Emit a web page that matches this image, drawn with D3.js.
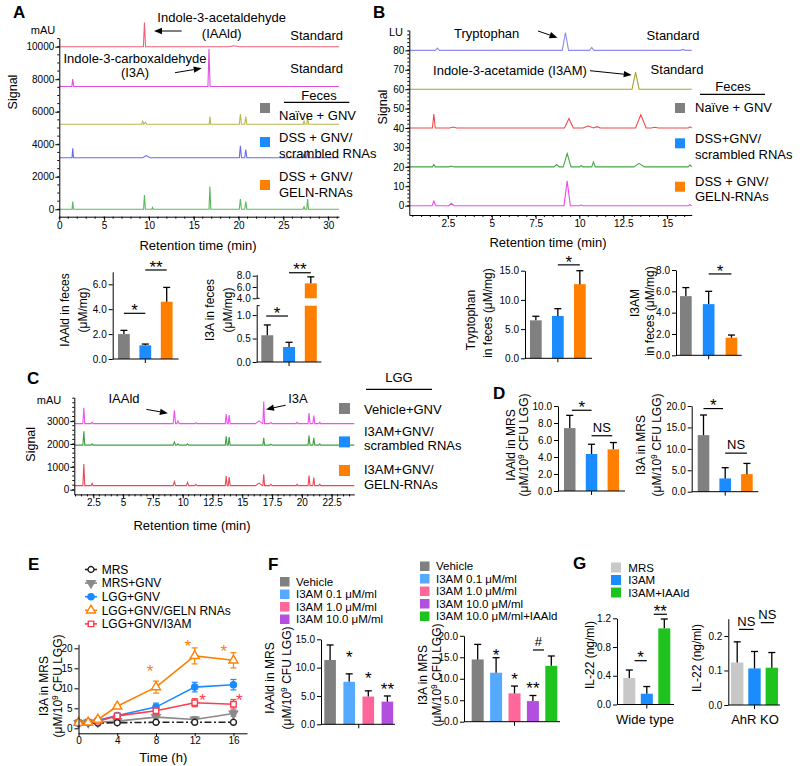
<!DOCTYPE html>
<html><head><meta charset="utf-8">
<script src="https://cdn.jsdelivr.net/npm/d3@7"></script>
<style>
body{margin:0;background:#fff;}
svg text{font-family:"Liberation Sans",Arial,Helvetica,sans-serif;fill:#000;}
</style></head><body>
<script>
// ---------------- DATA ----------------
// Chromatogram peaks: [retention time (min), peak height above baseline, half width (min)]
const aStdIAAld=[[9.5,1480,0.12],[19.5,60,0.6]];
const aStdI3A=[[1.5,460,0.1],[16.7,2300,0.12]];
const aNaive=[[9.3,220,0.1],[9.6,120,0.15],[16.8,470,0.08],[20.2,630,0.12],[20.8,470,0.12],[27.3,200,0.1],[27.7,430,0.1]];
const aScr=[[1.5,575,0.08],[9.7,130,0.4],[20.2,740,0.12],[20.8,510,0.12],[27.3,260,0.1],[27.7,470,0.1]];
const aGeln=[[1.5,470,0.08],[9.5,880,0.1],[10.4,110,0.08],[16.8,1400,0.1],[20.2,635,0.12],[20.8,470,0.12],[27.3,150,0.1],[27.7,635,0.1]];
const aBaselines=[10000,7550,5230,3170,0];

const bStdTrp=[[1.9,1.2,0.12],[9.2,9.2,0.18],[10.7,1.5,0.12],[15.9,0.5,0.15]];
const bStdI3AM=[[13.2,8.8,0.2]];
const bNaive=[[1.7,7.2,0.08],[2.8,0.5,0.2],[9.4,4.9,0.25],[10.5,1.0,0.3],[11.0,0.7,0.2],[13.5,6.9,0.3],[14.3,0.4,0.2],[16.3,0.6,0.1]];
const bScr=[[1.7,1.2,0.08],[2.7,0.4,0.15],[8.7,1.2,0.15],[9.3,6.9,0.22],[10.1,0.7,0.1],[10.8,2.6,0.1],[13.4,1.8,0.3],[16.3,1.0,0.1]];
const bGeln=[[1.7,2.4,0.1],[2.7,1.2,0.15],[9.3,12.8,0.18],[10.1,0.3,0.1],[16.3,0.5,0.1]];
const bBaselines=[80,60,40,20,0];

const cVehicle=[[1.7,690,0.08],[2.4,60,0.08],[9.3,580,0.1],[9.6,120,0.1],[11.1,40,0.1],[13.65,420,0.08],[13.9,375,0.08],[16.4,120,0.3],[16.8,970,0.07],[17.4,50,0.1],[19.6,60,0.08],[20.6,460,0.08],[21.0,350,0.08],[21.5,60,0.08]];
const cScr=[[1.7,600,0.08],[2.4,50,0.08],[9.3,140,0.1],[9.6,60,0.1],[10.4,60,0.1],[13.65,390,0.08],[13.9,350,0.08],[16.8,320,0.07],[17.4,40,0.1],[20.6,420,0.08],[21.0,320,0.08],[21.5,50,0.08]];
const cGeln=[[1.7,940,0.08],[2.4,100,0.08],[9.3,170,0.1],[10.4,140,0.1],[11.1,60,0.1],[13.65,420,0.08],[13.9,375,0.08],[16.4,110,0.3],[16.8,490,0.07],[17.4,60,0.1],[19.6,60,0.08],[20.6,440,0.08],[21.0,350,0.08],[21.5,60,0.08]];
const cBaselines=[2890,1950,180];

// Tick labels
const aYTicks=[0,2000,4000,6000,8000,10000], aXTicks=[0,5,10,15,20,25,30];
const bYTicks=[0,10,20,30,40,50,60,70,80], bXTicks=[2.5,5,7.5,10,12.5,15];
const cYTicks=[0,1000,2000,3000], cXTicks=[2.5,5,7.5,10,12.5,15,17.5,20,22.5];

// Bar data
const fecesGroups=["Naïve + GNV","DSS + GNV/scrambled RNAs","DSS + GNV/GELN-RNAs"];
const iaaldFeces=[2.0,1.1,4.6], iaaldFecesErr=[2.3,1.2,5.75];
const i3aFeces=[0.57,0.32,6.65], i3aFecesErr=[0.79,0.42,7.8];
const trpFeces=[6.5,7.25,12.7], trpFecesErr=[7.2,8.5,15.0];
const i3amFeces=[5.55,4.8,1.65], i3amFecesErr=[6.35,6.0,1.9];
const lggGroups=["Vehicle+GNV","I3AM+GNV/scrambled RNAs","I3AM+GNV/GELN-RNAs"];
const iaaldMRS=[7.4,4.35,4.9], iaaldMRSErr=[8.9,5.5,5.7];
const i3aMRS=[13.2,3.1,4.1], i3aMRSErr=[17.9,5.6,6.6];
const doseGroups=["Vehicle","I3AM 0.1 μM/ml","I3AM 1.0 μM/ml","I3AM 10.0 μM/ml","I3AM 10.0 μM/ml+IAAld"];
const iaaldDose=[11.35,7.5,4.9,4.0], iaaldDoseErr=[14.0,8.9,5.9,5.0];
const i3aDose=[14.5,11.4,6.6,4.8,13.0], i3aDoseErr=[18.0,14.9,8.3,6.1,15.3];
const il22Groups=["MRS","I3AM","I3AM+IAAld"];
const il22WT=[0.37,0.15,1.06], il22WTErr=[0.48,0.25,1.19];
const il22KO=[0.123,0.106,0.108], il22KOErr=[0.183,0.155,0.152];

// Time course (panel E)
const eTimes=[0,1,2,4,8,12,16];
const eNames=["MRS","MRS+GNV","LGG+GNV","LGG+GNV/GELN RNAs","LGG+GNV/I3AM"];
const eMRS=[1.3,1.4,1.3,1.4,1.5,1.5,1.5], eMRSErr=[0.2,0.2,0.2,0.2,0.3,0.3,0.3];
const eMRSGNV=[1.3,1.4,1.5,1.8,2.8,2.2,3.7], eMRSGNVErr=[0.2,0.2,0.2,0.3,0.8,0.7,0.7];
const eLGG=[1.4,1.5,2.0,3.2,5.3,10.3,10.9], eLGGErr=[0.2,0.2,0.3,0.5,1.0,1.2,1.3];
const eGELN=[1.4,1.5,2.2,5.5,10.3,18.1,17.0], eGELNErr=[0.2,0.2,0.3,0.4,1.5,2.0,1.9];
const eI3AM=[1.4,1.5,1.8,3.1,4.4,6.4,6.0], eI3AMErr=[0.2,0.2,0.3,0.5,0.8,1.0,1.2];
const eStarsGELN=[[7.4,15.3],[11.3,21.4],[15.0,20.2]];
const eStarsI3AM=[[12.8,8.1],[16.6,8.1]];

// ---------------- STYLE ----------------
const GRAY="#808080", BLUE="#1a8cff", ORANGE="#ff8000";
const groupColors=[GRAY,BLUE,ORANGE];
const doseColors=[GRAY,"#55aaff","#ff6699","#b24fdf","#1ec31e"];
const il22Colors=["#c8c8c8",BLUE,"#1ec31e"];

const svg=d3.select("body").append("svg").attr("width",800).attr("height",766);

function label(x,y,s,o={}){
  const t=svg.append("text").attr("x",x).attr("y",y)
    .attr("font-size",o.size||13).attr("text-anchor",o.anchor||"start")
    .attr("dy",o.dy===undefined?"0.35em":o.dy);
  if(o.bold)t.attr("font-weight","bold");
  if(o.fill)t.style("fill",o.fill);
  if(o.rot)t.attr("transform",`rotate(-90,${x},${y})`);
  if(s.includes("^")){
    const [a,b]=s.split("^");
    t.append("tspan").text(a);
    t.append("tspan").attr("dy",-4).attr("font-size",(o.size||13)*0.7).text(b[0]);
    t.append("tspan").attr("dy",4).text(b.slice(1));
  } else t.text(s);
  return t;
}
function mark(x,cy,s,fs,fill){
  const k=s.startsWith("*")?0.57:0.36;
  const t=svg.append("text").attr("x",x).attr("y",cy+k*fs).attr("text-anchor","middle").attr("font-size",fs).text(s);
  if(fill)t.style("fill",fill);
}
function arrow(x1,y1,x2,y2){
  const a=Math.atan2(y2-y1,x2-x1),L=8,W=3.2,c=Math.cos(a),s=Math.sin(a);
  svg.append("line").attr("x1",x1).attr("y1",y1).attr("x2",x2-L*c).attr("y2",y2-L*s).attr("stroke","#000").attr("stroke-width",1);
  svg.append("path").attr("d",`M${x2},${y2}L${x2-L*c+W*s},${y2-L*s-W*c}L${x2-L*c-W*s},${y2-L*s+W*c}Z`).attr("fill","#000");
}
function hline(x1,x2,y,w){svg.append("line").attr("x1",x1).attr("x2",x2).attr("y1",y).attr("y2",y).attr("stroke","#000").attr("stroke-width",w||1.2);}
function square(x,y,s,c){svg.append("rect").attr("x",x).attr("y",y).attr("width",s).attr("height",s).attr("fill",c);}

function chrom(c){
  const x=d3.scaleLinear().domain(c.xd).range(c.xr);
  const y=d3.scaleLinear().domain(c.yd).range(c.yr);
  const g=svg.append("g");
  c.traces.forEach((pk,i)=>{
    const b=c.bases[i];
    const pts=[[c.xd[0],b]];
    pk.forEach(([t,h,w])=>pts.push([t-w,b],[t,b+h],[t+w,b]));
    pts.push([c.xd[1],b]);
    g.append("path").attr("d",d3.line().x(d=>x(d[0])).y(d=>y(d[1]))(pts))
      .attr("fill","none").attr("stroke",c.colors[i]).attr("stroke-width",1.1);
  });
  const gy=g.append("g").attr("transform",`translate(${c.xr[0]},0)`).attr("font-size",11)
    .call(d3.axisLeft(y).tickValues(c.yt).tickSize(4).tickSizeOuter(0).tickPadding(1).tickFormat(d3.format("d")));
  gy.selectAll("line.mn").data(c.ym).join("line").attr("class","mn").attr("x2",-2).attr("y1",d=>y(d)).attr("y2",d=>y(d)).attr("stroke","#000");
  const gx=g.append("g").attr("transform",`translate(0,${c.yr[0]})`).attr("font-size",11)
    .call(d3.axisBottom(x).tickValues(c.xt).tickSize(4).tickSizeOuter(0).tickPadding(1).tickFormat(d=>d%1?d.toFixed(1):d));
  gx.selectAll("line.mn").data(c.xm).join("line").attr("class","mn").attr("y2",2).attr("x1",d=>x(d)).attr("x2",d=>x(d)).attr("stroke","#000");
  return {x,y};
}

function bars(c){
  const n=c.vals.length, pi=1-c.bw/c.step, r0=c.start-0.5*c.step;
  const x=d3.scaleBand().domain(c.cats.slice(0,n)).range([r0,r0+c.step*(n-pi+1)]).paddingInner(pi).paddingOuter(0.5);
  const y=d3.scaleLinear().domain(c.yd).range(c.yr);
  const xc=f=>x(c.cats[0])+x.bandwidth()/2+f*x.step();
  const g=svg.append("g");
  g.selectAll("rect").data(c.vals).join("rect")
    .attr("x",(d,i)=>x(c.cats[i])).attr("y",d=>y(d)).attr("width",x.bandwidth())
    .attr("height",d=>y(0)-y(d)).attr("fill",(d,i)=>c.colors[i]);
  c.vals.forEach((v,i)=>{
    const cx=xc(i), ye=y(c.errs[i]);
    g.append("line").attr("x1",cx).attr("x2",cx).attr("y1",y(v)).attr("y2",ye).attr("stroke","#000").attr("stroke-width",1.3);
    g.append("line").attr("x1",cx-3.5).attr("x2",cx+3.5).attr("y1",ye).attr("y2",ye).attr("stroke","#000").attr("stroke-width",1.3);
  });
  g.append("g").attr("transform",`translate(${c.ax},0)`).attr("font-size",12)
    .call(d3.axisLeft(y).tickValues(c.yt).tickFormat(d3.format(c.fmt||".1f")).tickSize(4).tickSizeOuter(0).tickPadding(2));
  const y0=y(c.yd[0]);
  g.append("line").attr("x1",c.ax).attr("x2",c.xe).attr("y1",y0).attr("y2",y0).attr("stroke","#000");
  const mid=(xc(0)+xc(n-1))/2;
  g.append("line").attr("x1",mid).attr("x2",mid).attr("y1",y0).attr("y2",y0+4).attr("stroke","#000");
  (c.sigs||[]).forEach(([i,j,v,s])=>{
    const star=s.startsWith("*"), fs=star?17:13;
    if(i===j){mark(xc(i),y(v),s,fs);}
    else{
      hline(xc(i),xc(j),y(v));
      mark((xc(i)+xc(j))/2,y(v)-(star?7:8.5),s,fs);
    }
  });
  (c.labels||[]).forEach(([s,lx,ly])=>label(lx,ly,s,{size:12,anchor:"middle",rot:true}));
  return {x,y,xc};
}

// ---------------- PANEL A ----------------
label(13,12,"A",{size:17,bold:true});
chrom({xd:[0,31.2],xr:[59.3,339],yd:[-455,10535],yr:[216.7,38],
  traces:[aStdIAAld,aStdI3A,aNaive,aScr,aGeln],bases:aBaselines,
  colors:["#f0607a","#e050e0","#b8b850","#6a6af0","#5cb85c"],
  yt:aYTicks,ym:d3.range(0,10501,500),xt:aXTicks,xm:d3.range(0,31.1,1)});
label(43,30,"mAU",{size:11,anchor:"middle"});
label(13,92,"Signal",{size:12.5,anchor:"middle",rot:true});
label(198,245,"Retention time (min)",{anchor:"middle"});
label(221.7,17.3,"Indole-3-acetaldehyde",{anchor:"middle"});
label(221.7,33.3,"(IAAld)",{anchor:"middle"});
arrow(181.7,31,154,31);
label(135,58.3,"Indole-3-carboxaldehyde",{anchor:"middle"});
label(135,72.7,"(I3A)",{anchor:"middle"});
arrow(175,72.7,201.7,68.3);
label(316.7,35.7,"Standard",{anchor:"middle"});
label(316.7,68.3,"Standard",{anchor:"middle"});
label(319,95,"Feces",{anchor:"middle"});
hline(284,349.3,102.3,1.3);
square(260,103,10,GRAY); square(260,137,10,BLUE); square(260,180,10,ORANGE);
label(279,115,"Naïve + GNV"); label(279,137.3,"DSS + GNV/"); label(279,153.3,"scrambled RNAs");
label(279,176.7,"DSS + GNV/"); label(279,192.7,"GELN-RNAs");

// ---------------- PANEL B ----------------
label(373,12,"B",{size:17,bold:true});
chrom({xd:[0.3,16.4],xr:[409.3,691.7],yd:[-4.8,90.5],yr:[215,30],
  traces:[bStdTrp,bStdI3AM,bNaive,bScr,bGeln],bases:bBaselines,
  colors:["#8c8cf0","#a5a533","#f04848","#48a848","#f048f0"],
  yt:bYTicks,ym:d3.range(0,90.1,2),xt:bXTicks,xm:d3.range(0.5,16.41,0.5)});
label(396,31.7,"LU",{size:11,anchor:"middle"});
label(383,107,"Signal",{size:12.5,anchor:"middle",rot:true});
label(548,242,"Retention time (min)",{anchor:"middle"});
label(486.7,33.3,"Tryptophan",{anchor:"middle"});
arrow(538,31,557.5,37.7);
label(673,35,"Standard",{anchor:"middle"});
label(510,70.7,"Indole-3-acetamide (I3AM)",{anchor:"middle"});
arrow(590,70.7,631.7,75);
label(677,69,"Standard",{anchor:"middle"});
label(733,86,"Feces",{anchor:"middle"});
hline(700,765,94.3,1.3);
square(675,103,10,GRAY); square(675,138.3,10,BLUE); square(675,181.7,10,ORANGE);
label(695,107.3,"Naïve + GNV"); label(695,138.3,"DSS+GNV/"); label(695,154,"scrambled RNAs");
label(695,181.7,"DSS + GNV/"); label(695,196,"GELN-RNAs");

// ---------------- A / B bar charts ----------------
bars({cats:fecesGroups,vals:iaaldFeces,errs:iaaldFecesErr,colors:groupColors,
  start:118,step:21.4,bw:11.8,ax:112.7,xe:178.6,yd:[0,7],yr:[359,271.85],yt:[0,2,4,6],
  sigs:[[0,1,3.67,"*"],[1,2,7.15,"**"]],
  labels:[["IAAld in feces",65,310],["(μM/mg)",83.3,310]]});

// broken-axis chart: I3A in feces
(function(){
  const n=3, step=21.75, bw=12, start=261.3, pi=1-bw/step, r0=start-0.5*step, ax=256.7, xe=321.4;
  const x=d3.scaleBand().domain(fecesGroups).range([r0,r0+step*(n-pi+1)]).paddingInner(pi).paddingOuter(0.5);
  const xc=f=>x(fecesGroups[0])+x.bandwidth()/2+f*x.step();
  const yL=d3.scaleLinear().domain([0,1.2]).range([362,305.7]);
  const yH=d3.scaleLinear().domain([4,8.2]).range([298.3,274.6]);
  const g=svg.append("g");
  i3aFeces.forEach((v,i)=>{
    const cx=xc(i);
    let yTop, yErr;
    if(i<2){
      g.append("rect").attr("x",x(fecesGroups[i])).attr("y",yL(v)).attr("width",x.bandwidth()).attr("height",yL(0)-yL(v)).attr("fill",groupColors[i]);
      yTop=yL(v); yErr=yL(i3aFecesErr[i]);
    } else {
      g.append("rect").attr("x",x(fecesGroups[i])).attr("y",yL(1.2)).attr("width",x.bandwidth()).attr("height",yL(0)-yL(1.2)).attr("fill",groupColors[i]);
      g.append("rect").attr("x",x(fecesGroups[i])).attr("y",yH(v)).attr("width",x.bandwidth()).attr("height",yH(4)-yH(v)).attr("fill",groupColors[i]);
      yTop=yH(v); yErr=yH(i3aFecesErr[i]);
    }
    g.append("line").attr("x1",cx).attr("x2",cx).attr("y1",yTop).attr("y2",yErr).attr("stroke","#000").attr("stroke-width",1.3);
    g.append("line").attr("x1",cx-3.5).attr("x2",cx+3.5).attr("y1",yErr).attr("y2",yErr).attr("stroke","#000").attr("stroke-width",1.3);
  });
  g.append("g").attr("transform",`translate(${ax},0)`).attr("font-size",12)
    .call(d3.axisLeft(yL).tickValues([0,0.5,1]).tickFormat(d3.format(".1f")).tickSize(4).tickSizeOuter(0).tickPadding(2));
  g.append("g").attr("transform",`translate(${ax},0)`).attr("font-size",12)
    .call(d3.axisLeft(yH).tickValues([4,6,8]).tickFormat(d3.format(".1f")).tickSize(4).tickSizeOuter(0).tickPadding(2));
  g.append("line").attr("x1",ax).attr("x2",ax+3).attr("y1",yL(1.2)).attr("y2",yL(1.2)).attr("stroke","#000");
  g.append("line").attr("x1",ax).attr("x2",ax+3).attr("y1",yH(4)).attr("y2",yH(4)).attr("stroke","#000");
  g.append("line").attr("x1",ax).attr("x2",xe).attr("y1",yL(0)).attr("y2",yL(0)).attr("stroke","#000");
  g.append("line").attr("x1",xc(1)).attr("x2",xc(1)).attr("y1",yL(0)).attr("y2",yL(0)+4).attr("stroke","#000");
  hline(xc(-0.05),xc(0.95),yL(0.98)); mark(xc(0.45),yL(0.98)-7,"*",17);
  hline(xc(1),xc(2),yH(8.53)); mark(xc(1.5),yH(8.53)-7,"**",17);
  label(210,310,"I3A in feces",{size:12,anchor:"middle",rot:true});
  label(228.3,310,"(μM/mg)",{size:12,anchor:"middle",rot:true});
})();

bars({cats:fecesGroups,vals:trpFeces,errs:trpFecesErr,colors:groupColors,
  start:530,step:22,bw:11.7,ax:525,xe:592,yd:[0,15],yr:[358.3,270.7],yt:[0,5,10,15],
  sigs:[[1,2,16.0,"*"]],
  labels:[["Tryptophan",471,320],["in feces (μM/mg)",488,313]]});
bars({cats:fecesGroups,vals:i3amFeces,errs:i3amFecesErr,colors:groupColors,
  start:680,step:22.8,bw:11.7,ax:676,xe:741.7,yd:[0,8],yr:[355.3,270],yt:[0,2,4,6,8],
  sigs:[[1,2,7.63,"*"]],
  labels:[["I3AM",635,303],["in feces (μM/mg)",650,311]]});

// ---------------- PANEL C ----------------
label(27,378,"C",{size:17,bold:true});
chrom({xd:[0.9,24.4],xr:[74.3,354.3],yd:[-205,4040],yr:[494.4,397.3],
  traces:[cVehicle,cScr,cGeln],bases:cBaselines,
  colors:["#f050f0","#40a040","#f04858"],
  yt:cYTicks,ym:d3.range(0,4001,200),xt:cXTicks,xm:d3.range(1,24.41,0.5)});
label(49,400.5,"mAU",{size:11,anchor:"middle"});
label(30.4,444.3,"Signal",{size:12.5,anchor:"middle",rot:true});
label(192,525,"Retention time (min)",{anchor:"middle"});
label(124,398.3,"IAAld",{anchor:"middle"});
arrow(146.4,409.4,167.9,413.2);
label(298,398.3,"I3A",{anchor:"middle"});
arrow(285.7,405.2,266,409.4);
label(399,377.6,"LGG",{anchor:"middle"});
hline(366,432,389.4,1.3);
square(339,403,11,GRAY); square(339,436.4,11,BLUE); square(339,465,11,ORANGE);
label(364,409.4,"Vehicle+GNV"); label(364,431.6,"I3AM+GNV/"); label(364,445.9,"scrambled RNAs");
label(364,469.7,"I3AM+GNV/"); label(364,484,"GELN-RNAs");

// ---------------- PANEL D ----------------
label(493,393,"D",{size:17,bold:true});
bars({cats:lggGroups,vals:iaaldMRS,errs:iaaldMRSErr,colors:groupColors,
  start:564,step:21.8,bw:11.5,ax:558,xe:625,yd:[0,10],yr:[491,406],yt:[0,2,4,6,8,10],
  sigs:[[0.1,1,9.5,"*"],[1,1.95,6.5,"NS"]],
  labels:[["IAAld in MRS",511,445],["(μM/10^9 CFU LGG)",524,445]]});
bars({cats:lggGroups,vals:i3aMRS,errs:i3aMRSErr,colors:groupColors,
  start:697.7,step:21.7,bw:11.6,ax:691.7,xe:758.3,yd:[0,20],yr:[491.7,406],yt:[0,5,10,15,20],
  sigs:[[0,0.9,19.4,"*"],[1,2,9.0,"NS"]],
  labels:[["I3A in MRS",641,445],["(μM/10^9 CFU LGG)",657,445]]});

// ---------------- PANEL E ----------------
label(28,564,"E",{size:17,bold:true});
(function(){
  const x=d3.scaleLinear().domain([0,17.4]).range([78.5,247]);
  const y=d3.scaleLinear().domain([-1.25,21]).range([733.3,644.3]);
  const g=svg.append("g");
  const series=[
    {v:eMRSGNV,e:eMRSGNVErr,c:"#8a8a8a",sym:d3.symbolTriangle,rot:180,fill:"#8a8a8a",size:30},
    {v:eMRS,e:eMRSErr,c:"#222",sym:d3.symbolCircle,rot:0,fill:"#fff",size:28,dash:"7,2.5,2,2.5"},
    {v:eLGG,e:eLGGErr,c:BLUE,sym:d3.symbolCircle,rot:0,fill:BLUE,size:30},
    {v:eI3AM,e:eI3AMErr,c:"#ff3b4e",sym:d3.symbolSquare,rot:0,fill:"#fff",size:30},
    {v:eGELN,e:eGELNErr,c:ORANGE,sym:d3.symbolTriangle,rot:0,fill:"#fff",size:36}
  ];
  series.forEach(s=>{
    const pts=eTimes.map((t,i)=>[t,s.v[i],s.e[i]]);
    pts.forEach(([t,v,e])=>{
      g.append("line").attr("x1",x(t)).attr("x2",x(t)).attr("y1",y(v-e)).attr("y2",y(v+e)).attr("stroke",s.c).attr("stroke-width",1.2);
      [v-e,v+e].forEach(w=>g.append("line").attr("x1",x(t)-3).attr("x2",x(t)+3).attr("y1",y(w)).attr("y2",y(w)).attr("stroke",s.c).attr("stroke-width",1.2));
    });
    g.append("path").attr("d",d3.line().x(d=>x(d[0])).y(d=>y(d[1]))(pts)).attr("fill","none")
      .attr("stroke",s.c).attr("stroke-width",1.6).attr("stroke-dasharray",s.dash||null);
    g.selectAll(null).data(pts).join("path").attr("d",d3.symbol(s.sym,s.size))
      .attr("transform",d=>`translate(${x(d[0])},${y(d[1])}) rotate(${s.rot})`)
      .attr("fill",s.fill).attr("stroke",s.c).attr("stroke-width",1.4);
  });
  g.append("g").attr("transform",`translate(${x(0)},0)`).attr("font-size",12)
    .call(d3.axisLeft(y).tickValues([0,5,10,15,20]).tickSize(4).tickSizeOuter(0).tickPadding(2));
  g.append("g").attr("transform",`translate(0,${y(-1.25)})`).attr("font-size",12)
    .call(d3.axisBottom(x).tickValues([0,4,8,12,16]).tickSize(3).tickSizeOuter(0).tickPadding(1));
  eStarsGELN.forEach(([t,v])=>mark(x(t),y(v),"*",17,ORANGE));
  eStarsI3AM.forEach(([t,v])=>mark(x(t),y(v),"*",17,"#ff3b4e"));
  label(163.3,757,"Time (h)",{anchor:"middle"});
  label(44,686,"I3A in MRS",{size:12,anchor:"middle",rot:true});
  label(58,686,"(μM/10^9 CFU LGG)",{size:12,anchor:"middle",rot:true});
  // legend
  const order=[1,0,2,4,3];
  order.forEach((si,row)=>{
    const s=series[si], ly=569.5+row*13.6;
    svg.append("line").attr("x1",85).attr("x2",97).attr("y1",ly).attr("y2",ly).attr("stroke",s.c).attr("stroke-width",1.6);
    svg.append("path").attr("d",d3.symbol(s.sym,s.size)).attr("transform",`translate(91,${ly}) rotate(${s.rot})`)
      .attr("fill",s.fill).attr("stroke",s.c).attr("stroke-width",1.4);
    label(101.7,ly,eNames[row],{size:12});
  });
})();

// ---------------- PANEL F ----------------
label(268,564,"F",{size:17,bold:true});
doseGroups.slice(0,4).forEach((n,i)=>{square(280,577+i*12.5,9.5,doseColors[i]); label(296,581.7+i*12.5,n,{size:11.5});});
bars({cats:doseGroups,vals:iaaldDose,errs:iaaldDoseErr,colors:doseColors,
  start:324.3,step:19.1,bw:11.6,ax:321,xe:395,yd:[0,15],yr:[724.3,639.3],yt:[0,5,10,15],
  sigs:[[1,1,12.5,"*"],[2,2,8.9,"*"],[3,3,6.8,"**"]],
  labels:[["IAAld in MRS",270,678],["(μM/10^9 CFU LGG)",287,678]]});
doseGroups.forEach((n,i)=>{square(420,561.5+i*12.5,9.5,doseColors[i]); label(436,566+i*12.5,n,{size:11.5});});
bars({cats:doseGroups,vals:i3aDose,errs:i3aDoseErr,colors:doseColors,
  start:471.7,step:18.4,bw:12,ax:464,xe:560,yd:[0,20],yr:[721.7,635.8],yt:[0,5,10,15,20],
  sigs:[[1,1,16.3,"*"],[2,2,10.9,"*"],[3,3,8.8,"**"],[3,3.6,16.7,"#"]],
  labels:[["I3A in MRS",423,675],["(μM/10^9 CFU LGG)",437,675]]});

// ---------------- PANEL G ----------------
label(573,563,"G",{size:17,bold:true});
il22Groups.forEach((n,i)=>{square(611,562.5+i*12.5,10,il22Colors[i]); label(628.3,567.5+i*12.5,n,{size:11.5});});
bars({cats:il22Groups,vals:il22WT,errs:il22WTErr,colors:il22Colors,
  start:623.3,step:17.5,bw:12,ax:617,xe:674,yd:[0,1.2],yr:[704.5,618.3],yt:[0,0.4,0.8,1.2],
  sigs:[[0.3,1,0.61,"*"],[1.4,2.15,1.256,"**"]],
  labels:[["IL-22 (ng/ml)",590,655]]});
bars({cats:il22Groups,vals:il22KO,errs:il22KOErr,colors:il22Colors,
  start:731,step:17.3,bw:12.4,ax:728.3,xe:780,yd:[0,0.25],yr:[705,618.7],yt:[0,0.1,0.2],
  sigs:[[0.1,0.95,0.219,"NS"],[1.36,2.12,0.2386,"NS"]],
  labels:[["IL-22 (ng/ml)",697,658]]});
label(645,719,"Wide type",{anchor:"middle"});
label(755,719,"AhR KO",{anchor:"middle"});
</script></body></html>
